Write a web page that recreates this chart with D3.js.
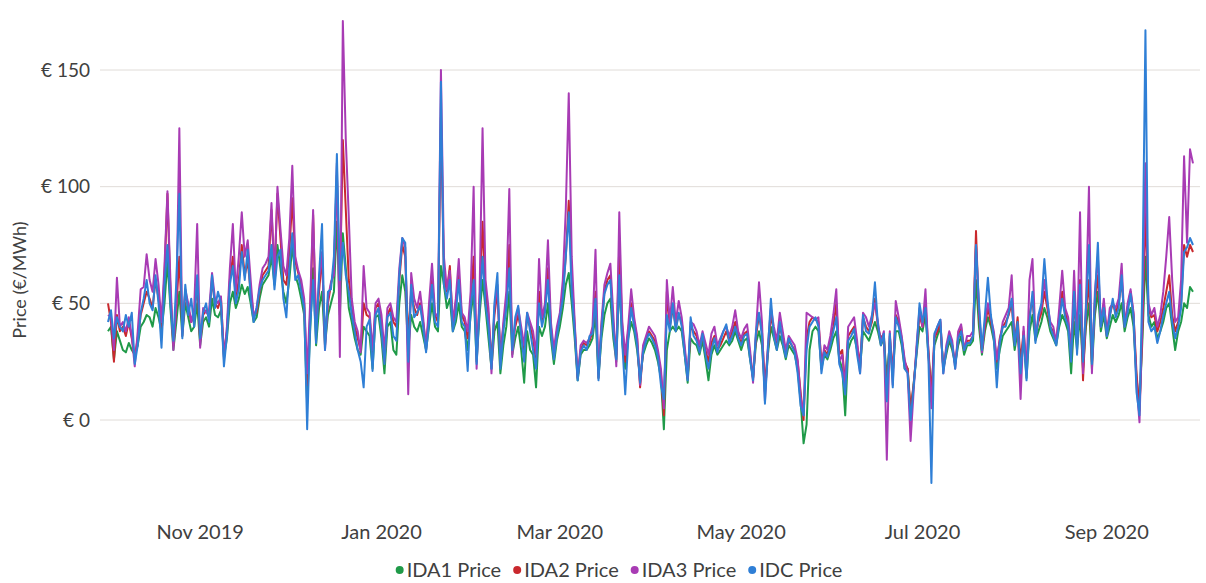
<!DOCTYPE html>
<html>
<head>
<meta charset="utf-8">
<script src="https://cdn.jsdelivr.net/npm/d3@7"></script>
<style>
html,body{margin:0;padding:0;background:#fff;}
svg{display:block;font-family:"Lato","Open Sans",sans-serif;}
</style>
</head>
<body>
<svg id="chart" width="1206" height="583"></svg>
<script>
// Daily series, 1 Oct 2019 .. 30 Sep 2020
const startDate = "2019-10-01";
const seriesNames = ["IDA1 Price", "IDA2 Price", "IDA3 Price", "IDC Price"];
const seriesColors = ["#1f9a48", "#c9282d", "#a83bb4", "#2f7fd6"];
const yTickValues = [0, 50, 100, 150];
const yTickLabels = ["€ 0", "€ 50", "€ 100", "€ 150"];
const yTitle = "Price (€/MWh)";

const ida1 = [
38,40,26,38,34,30,29,33,30,28,
32,40,42,45,44,40,48,44,38,50,
68,48,30,42,55,36,50,44,38,40,
50,32,42,44,40,52,45,44,47,27,
35,50,55,48,52,58,54,57,50,42,
44,52,58,60,62,70,58,75,65,55,
50,60,75,62,58,52,45,7,38,65,
32,48,55,32,45,50,55,85,45,80,
65,48,42,35,30,28,40,38,36,22,
44,45,35,20,40,42,30,28,50,62,
55,30,45,40,38,42,36,30,40,50,
40,38,66,58,48,52,38,42,50,40,
38,30,45,55,25,45,60,48,35,22,
38,42,20,32,40,55,28,35,40,30,
16,38,30,28,14,40,36,40,50,35,
24,34,40,48,58,63,50,35,17,28,
30,30,32,35,45,18,35,45,50,52,
35,25,60,33,22,35,42,38,30,18,
28,32,35,33,30,25,18,-4,30,38,
40,38,40,38,28,16,35,33,32,28,
34,26,17,28,32,28,30,32,34,32,
34,38,34,30,34,35,26,18,33,38,
32,12,28,40,35,30,36,32,26,32,
30,28,22,8,-10,-2,30,38,40,38,
22,28,26,30,35,38,26,22,2,30,
34,36,30,22,38,36,34,38,42,38,
32,35,18,33,20,38,38,32,22,22,
2,15,28,40,38,45,28,12,32,36,
40,22,28,34,30,24,32,36,28,32,
32,34,60,40,28,38,44,40,34,22,
30,36,38,40,42,30,38,22,35,18,
38,45,34,38,42,48,44,38,35,32,
40,45,42,38,20,42,30,45,22,40,
50,22,45,55,38,45,35,40,45,42,
45,50,38,44,48,40,18,6,35,70,
45,40,42,35,38,42,48,50,40,30,
38,42,50,48,57,55
];

const ida2 = [
50,42,25,45,38,40,36,42,35,27,
35,45,50,55,52,48,60,52,40,62,
97,55,32,48,70,38,55,48,42,45,
58,34,45,47,44,60,50,48,52,28,
38,60,70,52,60,75,62,68,55,45,
46,55,62,64,66,90,62,97,78,60,
58,72,95,68,63,58,50,15,45,88,
40,55,70,35,50,58,65,105,55,120,
90,60,50,40,35,30,50,45,44,28,
48,50,40,25,45,48,42,40,60,75,
70,35,55,48,45,50,42,32,45,60,
45,42,130,62,55,66,40,50,62,45,
42,35,50,70,28,50,85,55,45,25,
45,55,28,40,50,75,32,40,45,38,
30,44,40,35,25,55,42,48,65,40,
28,38,44,55,70,94,62,40,18,30,
33,32,34,38,55,20,40,55,60,62,
40,28,75,40,25,38,50,42,35,14,
30,35,38,36,34,28,20,2,55,40,
48,40,45,42,30,18,40,38,36,30,
36,30,25,33,36,30,32,35,38,34,
38,42,36,33,37,38,28,18,36,45,
38,15,30,45,38,32,40,35,28,34,
32,30,25,12,0,35,42,44,43,42,
25,30,28,34,40,50,28,30,15,36,
38,40,32,24,44,40,38,42,52,40,
35,37,10,36,20,45,42,35,25,22,
5,15,30,45,40,50,30,10,35,38,
42,22,30,36,32,24,35,40,30,34,
34,36,81,45,30,40,48,42,36,25,
35,40,42,45,50,33,44,25,38,22,
45,52,36,42,46,55,48,40,38,34,
45,55,46,42,28,50,35,60,17,45,
60,25,50,62,42,50,38,45,50,46,
50,60,42,48,55,45,20,4,40,90,
48,44,45,38,42,48,55,62,45,38,
42,50,75,70,75,72
];

const ida3 = [
45,44,30,61,40,42,38,44,36,23,
38,56,57,71,60,55,69,58,42,66,
98,60,30,50,125,36,56,50,42,48,
84,31,48,46,47,63,52,50,53,26,
40,65,84,55,70,89,70,77,60,44,
48,58,65,67,70,93,60,100,82,66,
62,78,109,70,64,60,52,20,50,90,
38,60,72,30,52,59,62,110,27,171,
120,87,52,42,38,29,66,48,46,30,
50,52,45,30,48,50,44,42,65,78,
74,11,63,52,48,55,44,30,50,67,
46,44,150,70,56,64,42,52,69,46,
44,38,55,100,22,55,125,60,48,20,
48,58,25,42,55,99,27,42,48,40,
32,46,42,38,28,69,44,50,77,42,
30,40,46,60,90,140,70,42,18,32,
34,33,35,40,73,18,42,58,63,67,
45,23,89,42,28,40,56,44,36,15,
32,36,40,38,36,30,22,5,60,42,
57,42,51,44,32,18,42,41,38,32,
38,33,28,37,40,32,35,38,40,36,
40,47,38,35,39,41,30,16,38,59,
42,8,32,48,40,34,46,38,30,36,
34,32,26,10,2,46,45,44,43,44,
22,32,30,36,45,56,25,28,14,40,
42,44,34,20,46,44,40,45,50,42,
33,38,-17,38,15,51,44,36,26,20,
-9,12,32,48,40,56,28,5,36,40,
43,20,32,38,34,22,38,41,30,36,
36,38,75,48,29,42,50,44,38,26,
34,42,45,48,62,34,40,9,40,20,
60,69,35,44,48,60,50,42,40,33,
48,64,48,44,30,64,32,89,20,50,
100,20,55,70,40,52,36,48,50,48,
52,67,40,50,56,46,15,-1,45,110,
50,45,48,40,45,55,70,87,60,42,
44,60,113,76,116,110
];

const idc = [
42,47,35,44,40,38,45,40,46,24,
32,46,52,60,50,47,62,50,31,58,
75,50,34,60,97,35,58,45,52,40,
62,35,46,50,42,62,48,55,50,23,
36,58,66,50,56,72,60,73,52,42,
48,56,60,62,64,75,56,70,73,52,
44,65,80,60,62,55,48,-4,40,60,
33,62,84,30,55,56,70,114,60,76,
62,55,45,38,30,25,14,40,43,21,
45,48,38,24,44,46,36,34,62,78,
76,25,58,44,46,49,40,29,42,58,
42,40,145,58,52,60,38,45,60,42,
40,21,48,60,24,48,70,50,40,22,
50,63,22,38,48,65,30,44,49,36,
25,46,38,30,22,50,40,46,60,38,
26,36,44,52,70,89,55,38,17,29,
32,30,36,37,52,17,38,54,58,60,
38,26,62,33,11,34,48,40,32,16,
29,34,37,35,32,27,15,9,45,38,
50,38,46,40,28,17,44,36,34,29,
37,28,22,30,35,29,34,38,41,33,
36,40,35,32,36,37,26,17,38,46,
36,7,30,52,36,30,42,33,27,35,
32,29,20,6,2,30,40,42,44,40,
20,29,27,32,38,44,24,20,11,34,
36,39,28,20,45,38,37,44,59,41,
32,37,8,37,14,44,40,34,22,20,
0,14,29,50,42,48,26,-27,37,40,
43,20,30,36,32,22,35,38,30,33,
33,36,75,50,30,45,61,45,35,14,
33,40,40,46,52,32,42,20,36,17,
42,55,33,45,50,69,52,40,36,32,
42,52,44,40,25,55,28,58,25,48,
75,24,52,76,40,48,36,44,52,44,
48,62,40,46,54,44,12,2,60,167,
42,38,40,33,38,45,50,55,42,35,
40,48,72,74,78,75
];

const seriesValues = [ida1, ida2, ida3, idc];

const svg = d3.select("#chart");
const parse = d3.timeParse("%Y-%m-%d");
const t0 = parse(startDate);
const dates = ida1.map((_, i) => d3.timeDay.offset(t0, i));

const x = d3.scaleTime()
  .domain([dates[0], dates[dates.length - 1]])
  .range([108, 1193]);
const y = d3.scaleLinear().domain([0, 150]).range([420, 70]);

// gridlines
svg.append("g").selectAll("line").data(yTickValues).join("line")
  .attr("x1", 100).attr("x2", 1200)
  .attr("y1", d => y(d)).attr("y2", d => y(d))
  .attr("stroke", "#e0dcd8").attr("stroke-width", 1);

// y labels
svg.append("g").selectAll("text").data(yTickValues).join("text")
  .attr("x", 90).attr("y", d => y(d)).attr("dy", "0.35em")
  .attr("text-anchor", "end").attr("font-size", 19).attr("fill", "#404040")
  .text((d, i) => yTickLabels[i]);

svg.append("text")
  .attr("transform", "translate(20,280) rotate(-90)")
  .attr("text-anchor", "middle").attr("dy", "0.35em")
  .attr("font-size", 18).attr("fill", "#404040")
  .text(yTitle);

// x axis labels
const xTicks = x.ticks(d3.timeMonth.every(2));
svg.append("g").selectAll("text").data(xTicks).join("text")
  .attr("x", d => x(d)).attr("y", 532).attr("dy", "0.35em")
  .attr("text-anchor", "middle").attr("font-size", 20).attr("fill", "#404040")
  .text(d => d3.timeFormat("%b %Y")(d));

// lines
const line = d3.line()
  .x((d, i) => x(dates[i]))
  .y(d => y(d));
seriesValues.forEach((vals, k) => {
  svg.append("path")
    .datum(vals)
    .attr("fill", "none")
    .attr("stroke", seriesColors[k])
    .attr("stroke-width", 2)
    .attr("stroke-linejoin", "round")
    .attr("d", line);
});

// legend
const legend = svg.append("g");
const gap = 12;
let lx = 0;
seriesNames.forEach((name, k) => {
  const g = legend.append("g");
  g.append("circle").attr("cx", 4).attr("cy", 0).attr("r", 4).attr("fill", seriesColors[k]);
  const tx = g.append("text").attr("x", 11).attr("y", 0).attr("dy", "0.35em")
    .attr("font-size", 20).attr("fill", "#404040").text(name);
  const w = 11 + tx.node().getComputedTextLength();
  g.attr("transform", `translate(${lx},0)`);
  lx += w + gap;
});
const totalW = lx - gap;
legend.attr("transform", `translate(${619 - totalW / 2},570)`);
</script>
</body>
</html>
